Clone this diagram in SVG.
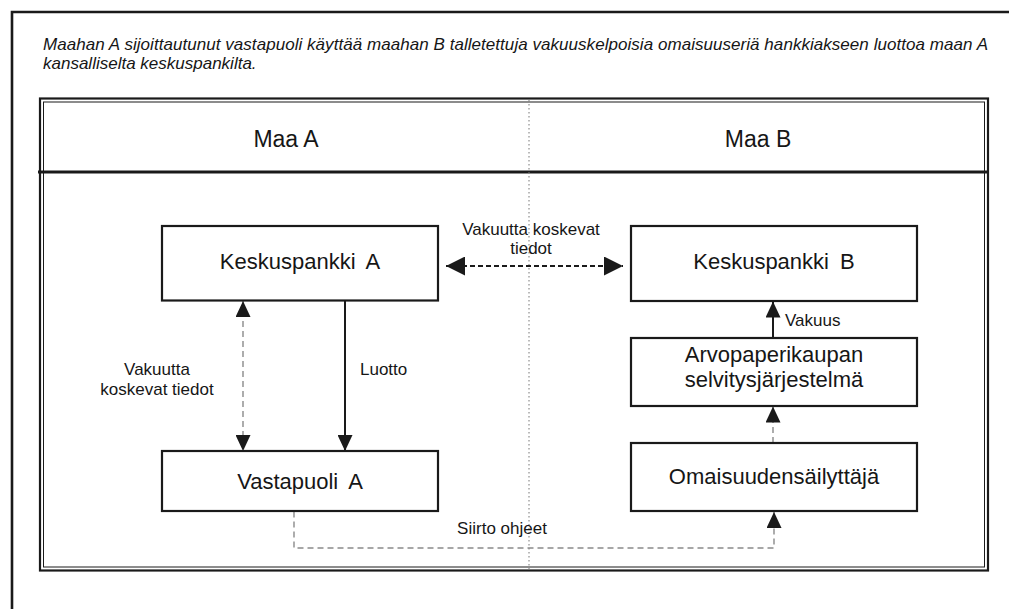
<svg xmlns="http://www.w3.org/2000/svg" width="1009" height="609" viewBox="0 0 1009 609">
<defs>
<style>
.t{font-family:"Liberation Sans",Arial,Helvetica,sans-serif;fill:#161616}
.n{font-size:22px;text-anchor:middle;word-spacing:5px}
.l{font-size:17px}
.c{text-anchor:middle}
.box{fill:#fff;stroke:#1a1a1a;stroke-width:2.2}
.solid{fill:none;stroke:#1a1a1a;stroke-width:2}
.gdash{fill:none;stroke:#8a8a8a;stroke-width:1.4;stroke-dasharray:6 4}
.bdash{fill:none;stroke:#1a1a1a;stroke-width:2;stroke-dasharray:5 3}
</style>
<marker id="ah" markerUnits="userSpaceOnUse" markerWidth="16" markerHeight="15" refX="16" refY="7.5" orient="auto-start-reverse">
<path d="M0,0 L16,7.5 L0,15 z" fill="#1a1a1a"/>
</marker>
<marker id="ahb" markerUnits="userSpaceOnUse" markerWidth="19" markerHeight="19" refX="19" refY="9.5" orient="auto-start-reverse">
<path d="M0,0 L19,9.5 L0,19 z" fill="#1a1a1a"/>
</marker>
</defs>
<rect width="1009" height="609" fill="#fff"/>
<g id="frame">
<path d="M12,609 L12,12 L1009,12" fill="none" stroke="#1a1a1a" stroke-width="2.6"/>
<text class="t" font-size="17" font-style="italic" x="43" y="50" textLength="945" lengthAdjust="spacing">Maahan A sijoittautunut vastapuoli käyttää maahan B talletettuja vakuuskelpoisia omaisuuseriä hankkiakseen luottoa maan A</text>
<text class="t" font-size="17" font-style="italic" x="43" y="69">kansalliselta keskuspankilta.</text>
</g>
<g id="table">
<rect x="40" y="98.5" width="948" height="472" fill="none" stroke="#1a1a1a" stroke-width="2.2"/>
<rect x="43.5" y="102" width="941" height="465" fill="none" stroke="#1a1a1a" stroke-width="1"/>
<line x1="38" y1="172" x2="989" y2="172" stroke="#1a1a1a" stroke-width="3.2"/>
<line x1="529" y1="100" x2="529" y2="569" stroke="#777" stroke-width="1" stroke-dasharray="1.5 2.5"/>
<text class="t c" font-size="23" x="286" y="147">Maa A</text>
<text class="t c" font-size="23" x="758" y="147">Maa B</text>
</g>
<g id="connectors">
<path class="gdash" d="M243,301 L243,451" marker-start="url(#ah)" marker-end="url(#ah)"/>
<path class="solid" d="M345,301 L345,451" marker-end="url(#ah)"/>
<path class="bdash" d="M446,266 L623,266" marker-start="url(#ahb)" marker-end="url(#ahb)"/>
<path class="solid" d="M773,338 L773,301.5" marker-end="url(#ah)"/>
<path class="gdash" d="M773,443 L773,406.5" marker-end="url(#ah)"/>
<path class="gdash" d="M294,511.5 L294,548 L774,548 L774,512" marker-end="url(#ah)"/>
<text class="t l c" x="531" y="235">Vakuutta koskevat</text>
<text class="t l c" x="531" y="254">tiedot</text>
<text class="t l c" x="157" y="375">Vakuutta</text>
<text class="t l c" x="157" y="395">koskevat tiedot</text>
<text class="t l" x="360" y="375">Luotto</text>
<text class="t l" x="785" y="326">Vakuus</text>
<text class="t l c" x="502" y="534">Siirto ohjeet</text>
</g>
<g id="keskuspankki-a">
<rect class="box" x="162" y="226" width="276" height="74.5"/>
<text class="t n" x="300" y="269">Keskuspankki A</text>
</g>
<g id="keskuspankki-b">
<rect class="box" x="631" y="226" width="286" height="75"/>
<text class="t n" x="774" y="269">Keskuspankki B</text>
</g>
<g id="arvopaperikaupan">
<rect class="box" x="631" y="338" width="286" height="68"/>
<text class="t n" x="774" y="362">Arvopaperikaupan</text>
<text class="t n" x="774" y="387">selvitysjärjestelmä</text>
</g>
<g id="omaisuudensailyttaja">
<rect class="box" x="631" y="443" width="286" height="68"/>
<text class="t n" x="774" y="484">Omaisuudensäilyttäjä</text>
</g>
<g id="vastapuoli-a">
<rect class="box" x="162" y="451" width="276" height="60"/>
<text class="t n" x="300" y="489">Vastapuoli A</text>
</g>
</svg>
